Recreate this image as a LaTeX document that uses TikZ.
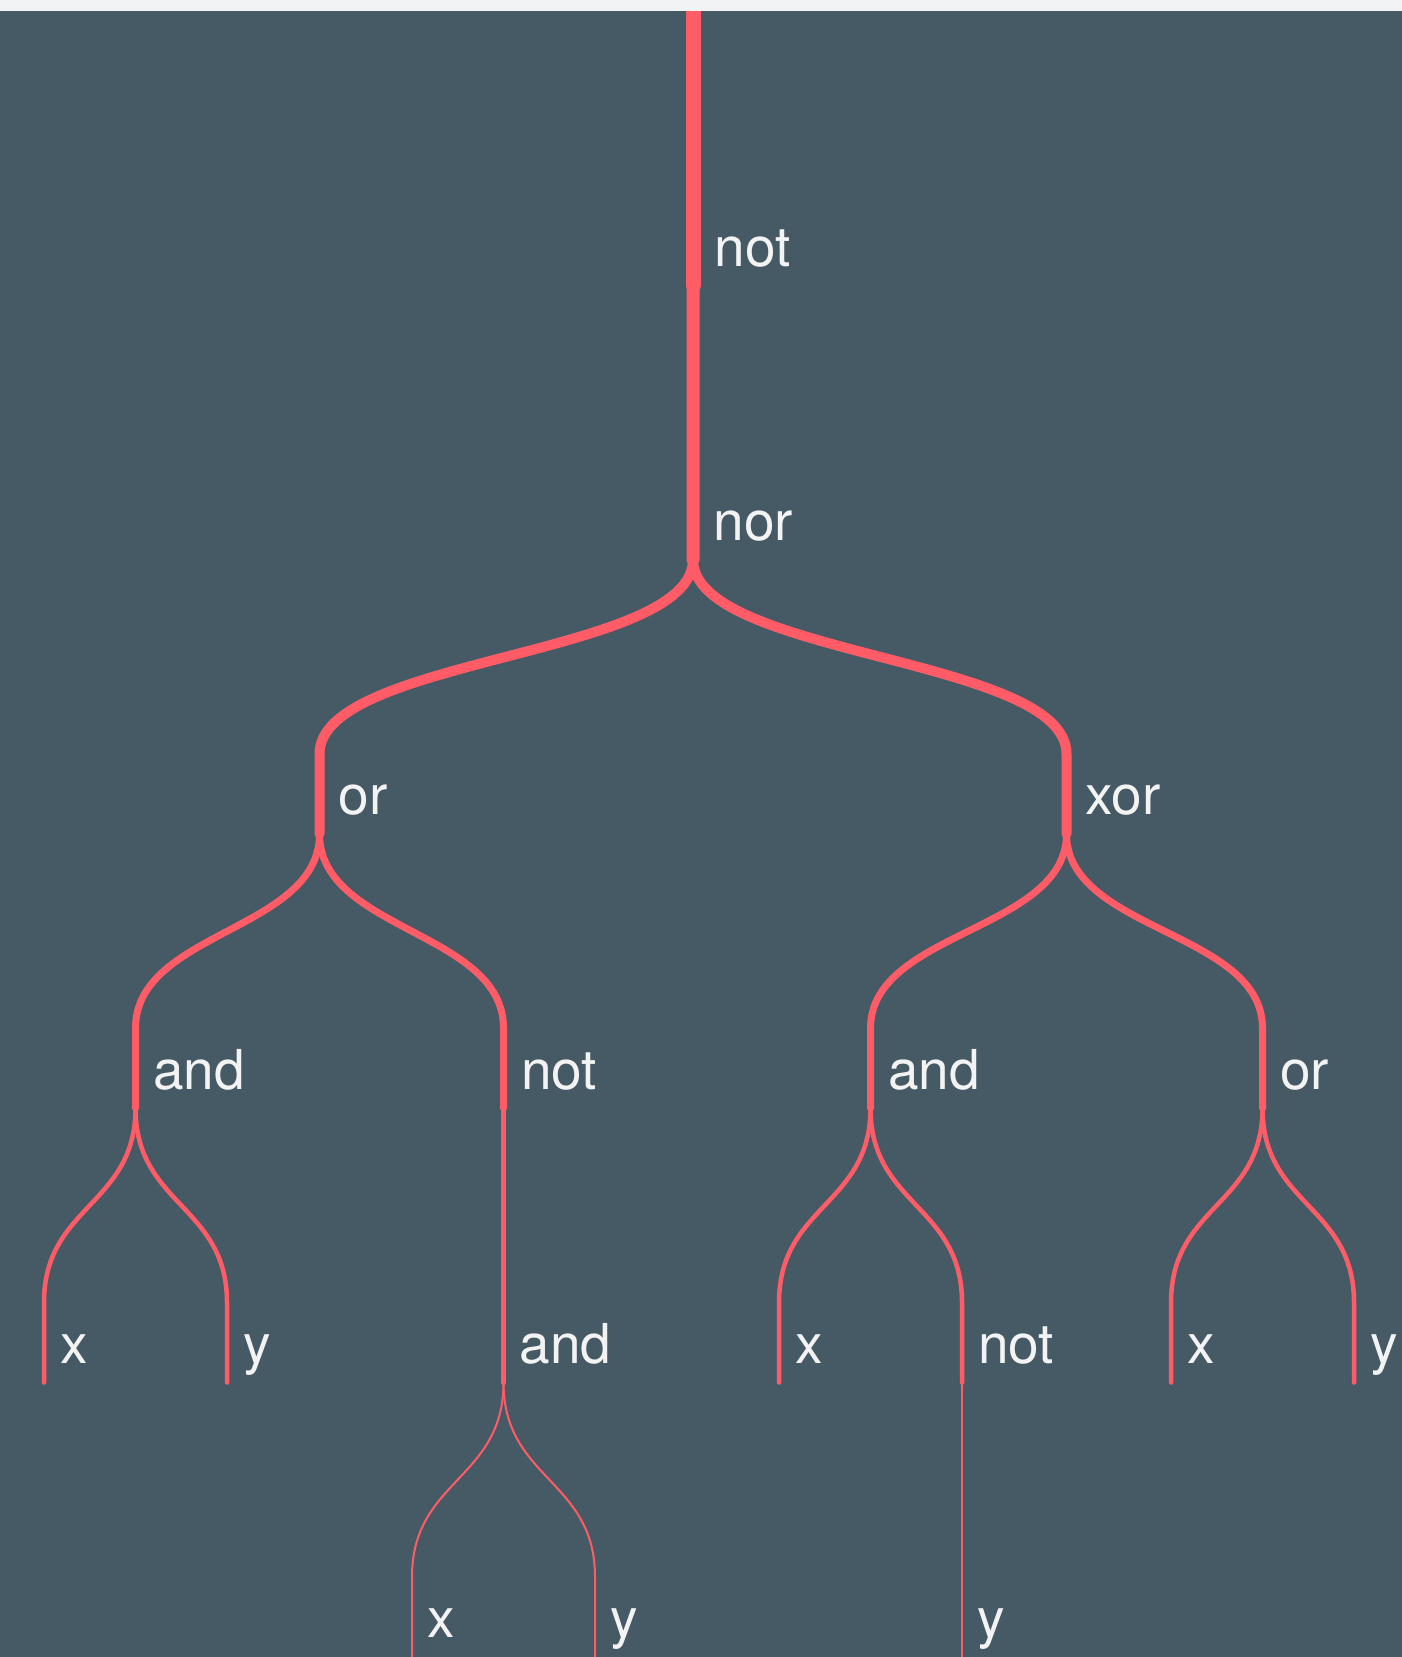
\documentclass[tikz,border=0pt]{standalone}
\usepackage{fontspec}
\setmainfont{TeX Gyre Heros}
\definecolor{slate}{HTML}{465A66}
\definecolor{coral}{HTML}{FF5C67}
\definecolor{chalk}{HTML}{F3F3F3}
\definecolor{rim}{HTML}{F2F3F4}

\begin{document}
\begin{tikzpicture}[
    x=1pt, y=1pt,
    grow=down, level distance=274.3pt,
    level 1/.style={line width=15pt},
    level 2/.style={line width=13pt},
    level 3/.style={sibling distance=747pt, line width=10pt},
    level 4/.style={sibling distance=368pt, line width=7pt},
    level 5/.style={sibling distance=183pt, line width=4.5pt},
    level 6/.style={sibling distance=183pt, line width=2pt},
    edge from parent/.style={draw=coral, line cap=round},
    edge from parent path={(\tikzparentnode) .. controls +(0,-97) and +(0,97)
      .. ([yshift=80pt]\tikzchildnode.center) -- (\tikzchildnode)},
    tag/.style={text=chalk, font=\fontsize{55}{66}\selectfont,
      anchor=base west, xshift=14pt, yshift=19pt, inner sep=0pt},
    term/.style={coordinate, label={[tag]0:#1}}
  ]
  \useasboundingbox (0,0) rectangle (1402,-1657);
  \fill[slate] (0,0) rectangle (1402,-1657);
  \node[coordinate] (top) at (693,-11) {}
    child { node[term=not] (not1) {}
      child { node[term=nor] (nor1) {}
        child { node[term=or] (or1) {}
          child { node[term=and] (and1) {}
            child { node[term=x] (x1) {} }
            child { node[term=y] (y1) {} }
          }
          child { node[term=not] (not2) {}
            child { node[term=and] (and2) {}
              child { node[term=x] (x2) {} }
              child { node[term=y] (y2) {} }
            }
          }
        }
        child { node[term=xor] (xor1) {}
          child[sibling distance=392pt] { node[term=and] (and3) {}
            child { node[term=x] (x3) {} }
            child { node[term=not] (not3) {}
              child { node[term=y] (y3) {} }
            }
          }
          child[sibling distance=392pt] { node[term=or] (or2) {}
            child { node[term=x] (x4) {} }
            child { node[term=y] (y4) {} }
          }
        }
      }
    };
  \fill[rim] (0,0) rectangle (1402,-11);
\end{tikzpicture}
\end{document}
